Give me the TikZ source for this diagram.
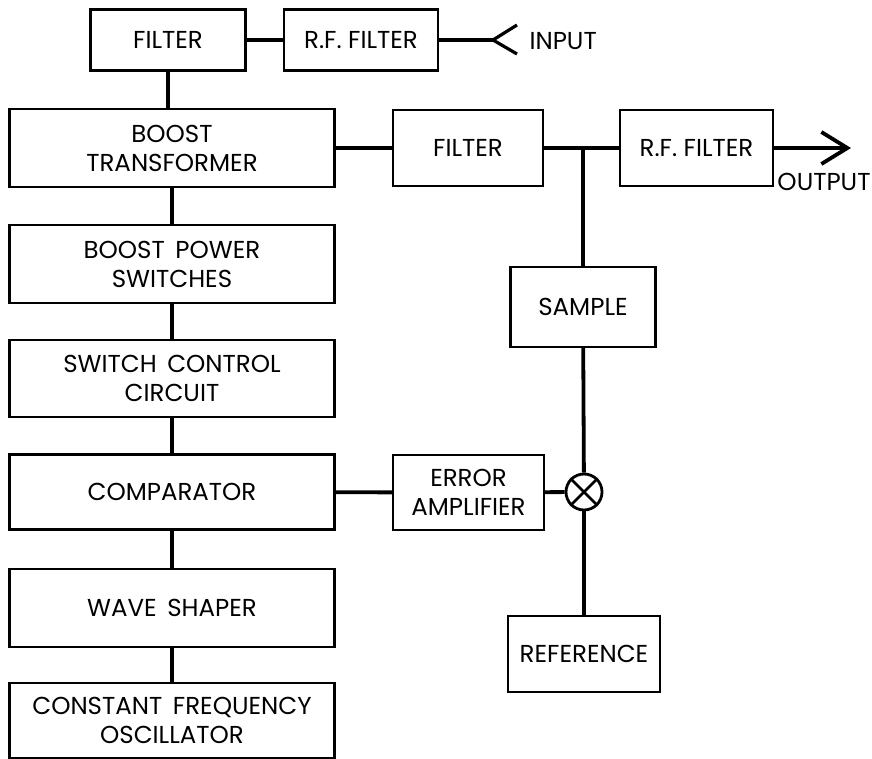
\documentclass[tikz,border=0pt]{standalone}
\usepackage{fontspec}
\setmainfont{Poppins}
\usepackage{tikz}
\usetikzlibrary{arrows.meta,calc}

\tikzset{
  blk/.style={draw,line width=2.4pt,align=center,inner sep=0pt,
    font=\fontsize{24.5}{29}\selectfont},
  wire/.style={line width=3.8pt},
}

\begin{document}
\begin{tikzpicture}[x=1pt,y=-1pt]
\useasboundingbox (0,0) rectangle (872,759);
% input side
\node[blk,minimum width=155,minimum height=61] (F1) at (168,40) {FILTER};
\node[blk,minimum width=154,minimum height=61] (RF1) at (361,40) {R.F.\ FILTER};
\coordinate (ANT) at (493,40);
\node[anchor=west,font=\fontsize{24.5}{29}\selectfont] (IN) at (526,41) {INPUT};
% main chain
\node[blk,minimum width=325,minimum height=78] (BT) at (172,148) {BOOST\\TRANSFORMER};
\node[blk,minimum width=325,minimum height=78] (BP) at (172,264) {BOOST\ \,POWER\\SWITCHES};
\node[blk,minimum width=325,minimum height=77] (SC) at (172,378.5) {SWITCH\ \,CONTROL\\CIRCUIT};
\node[blk,minimum width=325,minimum height=75] (CP) at (172,492) {COMPARATOR};
\node[blk,minimum width=325,minimum height=78] (WS) at (172,608) {WAVE\ \,SHAPER};
\node[blk,minimum width=325,minimum height=75] (CF) at (172,720.5) {CONSTANT\ \,FREQUENCY\\OSCILLATOR};
% output side
\node[blk,minimum width=150,minimum height=76] (F2) at (468,148) {FILTER};
\node[blk,minimum width=153,minimum height=76] (RF2) at (696.5,148) {R.F.\ FILTER};
\coordinate (J) at (583,148);
\coordinate (OUT) at (851,148);
\node[font=\fontsize{24.5}{29}\selectfont] (OL) at (824,182) {OUTPUT};
% regulation loop
\node[blk,minimum width=145,minimum height=80] (SA) at (583,307) {SAMPLE};
\node[blk,minimum width=151,minimum height=75] (EA) at (468.5,492.5) {ERROR\\AMPLIFIER};
\node[draw,circle,line width=2.8pt,minimum size=36,inner sep=0pt] (X) at (584,492) {};
\node[blk,minimum width=152,minimum height=76] (RE) at (584,654) {REFERENCE};

\draw[wire] (F1)--(RF1);
\draw[wire] (RF1)--(ANT);
\draw[line width=3.2pt] ($(ANT)+(24,-15)$)--(ANT)--($(ANT)+(24,14)$);
\draw[wire] (F1.south)--(F1.south |- BT.north);
\draw[wire] (BT)--(BP);
\draw[wire] (BP)--(SC);
\draw[wire] (SC)--(CP);
\draw[wire] (CP)--(WS);
\draw[wire] (WS)--(CF);
\draw[wire] (BT)--(F2);
\draw[wire] (F2)--(RF2);
\draw[wire,-{Straight Barb[length=26pt,width=32pt,line width=3.8pt]}] (RF2)--(OUT);
\draw[wire] (J)--(SA);
\draw[wire] (SA)--(X);
\draw[wire] (X)--(RE);
\draw[wire] (CP)--(EA);
\draw[wire] (EA)--(X);
\draw[line width=2.8pt] (X.north east)--(X.south west) (X.north west)--(X.south east);
\end{tikzpicture}
\end{document}
